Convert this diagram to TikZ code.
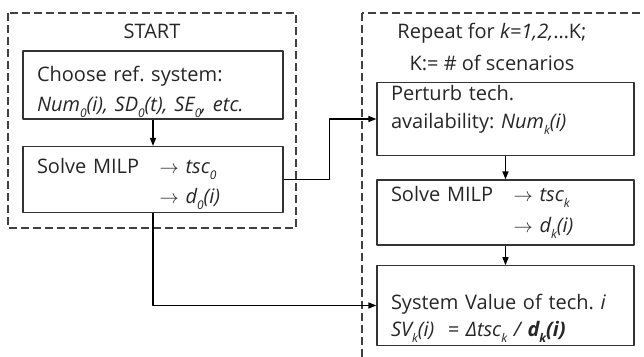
\documentclass[tikz,border=0pt]{standalone}
\usepackage{fontspec}
\setmainfont{Open Sans}
\usetikzlibrary{arrows,arrows.meta}

\tikzset{
  stepbox/.style={draw=black!80, line width=0.9pt, align=left, inner xsep=10.5pt,
    inner ysep=2pt, font=\fontsize{15}{18}\selectfont, text=black!85},
  leftbox/.style={stepbox, minimum width=195pt, text width=174pt},
  rightbox/.style={stepbox, minimum width=192.75pt, text width=171.75pt},
  frametext/.style={align=center, font=\fontsize{15}{18}\selectfont, text=black!85},
  loopframe/.style={draw=black!75, line width=0.8pt, dash pattern=on 6pt off 3pt},
  flow/.style={->, line width=1pt, draw=black},
}
\newcommand{\milp}{\makebox[92pt][l]{Solve MILP}}
\newcommand{\sub}[1]{\raisebox{-0.55ex}{\fontsize{9}{9}\selectfont #1}}
\newcommand{\lift}[1]{\rule{0pt}{#1}}
\frenchspacing

\begin{document}
\begin{tikzpicture}[line join=round,>={Triangle[length=6pt,width=4.5pt]},x=0.75pt,y=-0.75pt]
\path[use as bounding box, clip] (0,0) rectangle (644,357);
% dashed frames
\draw[loopframe] (8,13) rectangle (296,228);
\draw[loopframe] (362,13) rectangle (700,420);
\node[frametext] (start) at (152,31) {START};
\node[frametext] (repeat) at (492,47) {Repeat for \textit{k=1,2,}\ldots K;\\[6pt] K:= \# of scenarios};
% reference system
\node[leftbox, inner ysep=0pt, minimum height=51pt] (ref) at (153,85)
  {\lift{22pt}Choose ref. system:\\[4pt] \textit{Num\sub{0}(i), SD\sub{0}(t), SE\sub{0}, etc.}};
\node[leftbox, minimum height=48.75pt] (solve0) at (153,179.5)
  {\lift{18pt}\milp$\rightarrow$ \textit{tsc\sub{0}}\\[5pt] \hspace*{92pt}$\rightarrow$ \textit{d\sub{0}(i)}};
% scenarios
\node[rightbox, minimum height=54pt] (perturb) at (505.5,119)
  {Perturb tech.\\[3pt] availability: \textit{Num\sub{k}(i)}\par\vspace{14pt}};
\node[rightbox, minimum height=48.75pt] (solvek) at (505.5,212.5)
  {\milp$\rightarrow$ \textit{tsc\sub{k}}\\[5pt] \hspace*{92pt}$\rightarrow$ \textit{d\sub{k}(i)}};
\node[rightbox, minimum height=56.25pt] (value) at (505.5,305.5)
  {\lift{31pt}System Value of tech. \textit{i}\\[2pt] \textit{SV\sub{k}(i)\ \ = Δtsc\sub{k} / \textbf{d\sub{k}(i)}}};
% connectors
\draw[flow] (ref) -- (solve0);
\draw[flow] (solve0.east) -- ++(46,0) |- (perturb.west);
\draw[flow] (solve0.south) |- (value.west);
\draw[flow] (perturb) -- (solvek);
\draw[flow] (solvek) -- (value);
\end{tikzpicture}
\end{document}
